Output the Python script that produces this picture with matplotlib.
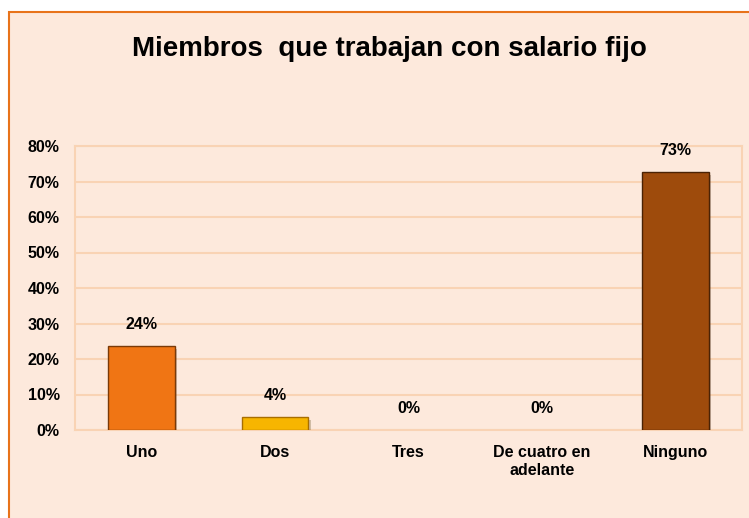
import matplotlib
matplotlib.use("Agg")
import matplotlib.pyplot as plt
from matplotlib.patches import Rectangle
import matplotlib.patheffects as pe

categories = ["Uno", "Dos", "Tres", "De cuatro en\nadelante", "Ninguno"]
values = [0.236, 0.036, 0.0, 0.0, 0.727]
bar_colors = ["#F07514", "#F7B500", "#F07514", "#F07514", "#9E4B0C"]
edge_colors = ["#7A3A08", "#A86E00", "#7A3A08", "#7A3A08", "#4A2204"]
yticks = [0, 0.1, 0.2, 0.3, 0.4, 0.5, 0.6, 0.7, 0.8]
title = "Miembros  que trabajan con salario fijo"

plt.rcParams['font.family'] = ['Liberation Sans', 'DejaVu Sans']

W, H = 749, 518
fig = plt.figure(figsize=(W / 100, H / 100), dpi=100)
fig.patch.set_facecolor("white")
bg = "#FDE9DC"
fig.patches.append(Rectangle((9 / W, -0.05), 1.2, 1 - 12 / H + 0.05,
                             transform=fig.transFigure, facecolor=bg,
                             edgecolor="#E8731A", linewidth=1.5, zorder=-5))

ax = fig.add_axes([75 / W, 1 - 430 / H, (742 - 75) / W, (430 - 146) / H])
ax.set_zorder(2)
ax.set_facecolor(bg)
x = list(range(len(categories)))
bars = ax.bar(x, values, width=0.5, color=bar_colors, edgecolor=edge_colors,
              linewidth=1.0, zorder=3)
for b, v in zip(bars, values):
    if v <= 0:
        b.set_visible(False)
        continue
    b.set_path_effects([pe.SimplePatchShadow(offset=(1.5, -2), alpha=0.25),
                        pe.Normal()])

ax.set_xlim(-0.5, len(categories) - 0.5)
ax.set_ylim(0, 0.8)
ax.set_yticks(yticks)
ax.set_yticklabels([f"{int(round(t * 100))}%" for t in yticks],
                   fontsize=11.5, fontweight="bold")
ax.set_xticks(x)
ax.set_xticklabels(categories, fontsize=11.5, fontweight="bold",
                   linespacing=1.25)
ax.tick_params(axis="both", length=0)
ax.tick_params(axis="y", pad=11)
ax.tick_params(axis="x", pad=11)
ax.yaxis.grid(True, color="#F9D3B4", linewidth=1.5, zorder=0)
ax.set_axisbelow(True)
for s in ax.spines.values():
    s.set_color("#F9D3B4")
    s.set_linewidth(1.5)

for xi, v in zip(x, values):
    ax.annotate(f"{v * 100:.0f}%", (xi, v), xytext=(0, 10),
                textcoords="offset points", ha="center", va="bottom",
                fontsize=11.5, fontweight="bold")

fig.text(389 / W, 1 - 49 / H, title, ha="center", va="center",
         fontsize=20, fontweight="bold")

fig.savefig("out.png", dpi=100, facecolor=fig.get_facecolor())
